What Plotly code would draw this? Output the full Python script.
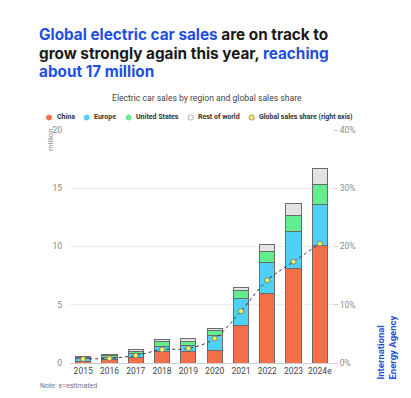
import plotly.graph_objects as go

years = ["2015", "2016", "2017", "2018", "2019", "2020", "2021", "2022", "2023", "2024e"]
china = [0.17, 0.31, 0.51, 1.00, 1.00, 1.10, 3.20, 6.00, 8.10, 10.10]
europe = [0.20, 0.20, 0.32, 0.40, 0.46, 1.30, 2.30, 2.60, 3.20, 3.50]
united_states = [0.12, 0.15, 0.17, 0.43, 0.40, 0.40, 0.70, 1.00, 1.40, 1.70]
rest_of_world = [0.05, 0.08, 0.20, 0.20, 0.22, 0.14, 0.30, 0.60, 1.00, 1.40]
global_share = [0.7, 0.8, 1.3, 2.3, 2.5, 4.2, 8.9, 14.2, 17.4, 20.5]
left_ticks = [0, 5, 10, 15, 20]
right_ticks = [0, 10, 20, 30, 40]

W, H = 411, 398
L, R, T, B = 70, 333, 130, 363

def px(x):
    return (x - L) / (R - L)

def py(y):
    return (B - y) / (B - T)

C_CHINA = "#F4704A"
C_EUROPE = "#4FD0F7"
C_US = "#62EE8E"
C_ROW = "#E3E3E3"
C_SHARE = "#F8F05A"
OUTLINE = "#6b6b6b"
BLUE = "#1F4FE0"

fig = go.Figure()
for name, vals, col in [("China", china, C_CHINA), ("Europe", europe, C_EUROPE),
                        ("United States", united_states, C_US), ("Rest of world", rest_of_world, C_ROW)]:
    fig.add_trace(go.Bar(x=years, y=vals, name=name, marker=dict(color=col, line=dict(color=OUTLINE, width=1)),
                         showlegend=False))

fig.add_trace(go.Scatter(x=years, y=global_share, yaxis="y2", mode="lines+markers",
                         line=dict(color="#333333", width=1, dash="dot", shape="spline"),
                         marker=dict(color=C_SHARE, size=5, line=dict(color="#666666", width=0.7)),
                         showlegend=False))

font = "Roboto, Arial, sans-serif"
title_font = "Inter, Roboto, sans-serif"

fig.update_layout(
    width=W, height=H, autosize=False,
    margin=dict(l=L, r=W - R, t=T, b=H - B, pad=0),
    paper_bgcolor="white", plot_bgcolor="white",
    barmode="stack", bargap=0.42,
    font=dict(family=font, color="#8a8a8a", size=8),
    xaxis=dict(type="category", range=[-0.5, 9.5], showgrid=False, showline=True, linecolor="#cfcfcf",
               linewidth=1, ticks="", tickfont=dict(size=8.5, color="#444444"), zeroline=False),
    yaxis=dict(range=[0, 20], tickvals=left_ticks, ticktext=[str(v) for v in left_ticks],
               showgrid=True, gridcolor="#ececec",
               gridwidth=1, zeroline=False, showline=False, ticks="", ticklabelstandoff=7,
               tickfont=dict(size=8.5, color="#8a8a8a")),
    yaxis2=dict(range=[0, 40], overlaying="y", side="right", tickvals=right_ticks,
                ticktext=["%d%%" % v for v in right_ticks], showgrid=False, zeroline=False, showline=False,
                ticks="outside", ticklen=4, tickcolor="#cfcfcf", tickfont=dict(size=8.5, color="#8a8a8a")),
)

ann = []
title_lines = [
    (34.8, "<span style='color:%s'>Global electric car sales</span> are on track to" % BLUE),
    (53.1, "grow strongly again this year, <span style='color:%s'>reaching</span>" % BLUE),
    (71.4, "<span style='color:%s'>about 17 million</span>" % BLUE),
]
for yy, txt in title_lines:
    ann.append(dict(x=px(37), y=py(yy), xref="paper", yref="paper", xanchor="left", yanchor="middle",
                    text="<b>" + txt + "</b>", showarrow=False,
                    font=dict(family=title_font, size=15.3, color="#1a1a1a")))
ann.append(dict(x=px(207), y=py(98), xref="paper", yref="paper", xanchor="center", yanchor="middle",
                text="Electric car sales by region and global sales share", showarrow=False,
                font=dict(family=font, size=8.6, color="#444444")))
legend_items = [(49, "China", C_CHINA, C_CHINA), (86.7, "Europe", C_EUROPE, C_EUROPE),
                (128.7, "United States", C_US, C_US), (190.7, "Rest of world", "white", "#999999"),
                (251.7, "Global sales share (right axis)", C_SHARE, "#888888")]
shapes = []
for xx, txt, fill, line in legend_items:
    shapes.append(dict(type="circle", xref="paper", yref="paper", x0=px(xx - 2.6), x1=px(xx + 2.6),
                       y0=py(117.5 + 2.6), y1=py(117.5 - 2.6), fillcolor=fill, line=dict(color=line, width=0.8)))
    ann.append(dict(x=px(xx + 5.5), y=py(117.5), xref="paper", yref="paper", xanchor="left", yanchor="middle",
                    text="<b>" + txt + "</b>", showarrow=False, font=dict(family=font, size=7, color="#333333")))
ann.append(dict(x=px(50), y=py(140), xref="paper", yref="paper", xanchor="center", yanchor="middle",
                text="million", textangle=-90, showarrow=False, font=dict(family=font, size=7.5, color="#8a8a8a")))
ann.append(dict(x=px(38), y=py(386), xref="paper", yref="paper", xanchor="left", yanchor="middle",
                text="Note: e=estimated", showarrow=False, font=dict(family=font, size=7, color="#777777")))
ann.append(dict(x=px(386), y=py(347.5), xref="paper", yref="paper", xanchor="center", yanchor="middle",
                text="<b>International<br>Energy Agency</b>", textangle=-90, align="left", showarrow=False,
                font=dict(family=font, size=9.5, color=BLUE)))

fig.update_layout(annotations=ann, shapes=shapes)
fig.write_html("out.html")
